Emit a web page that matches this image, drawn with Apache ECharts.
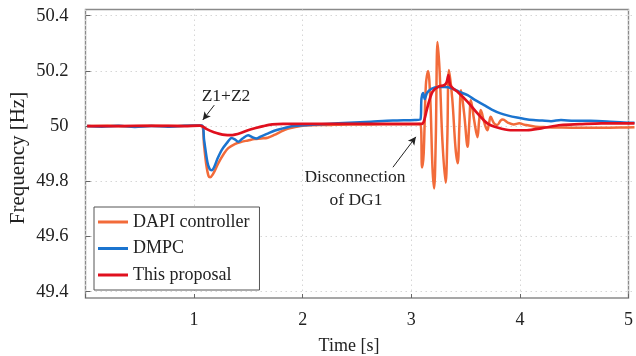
<!DOCTYPE html>
<html>
<head>
<meta charset="utf-8">
<script src="https://cdn.jsdelivr.net/npm/echarts@6/dist/echarts.min.js"></script>
<style>html,body{margin:0;padding:0;background:#fff;}#c{width:636px;height:356px;}</style>
</head>
<body>
<div id="c"></div>
<script>
// ---- data (time [s], frequency [Hz]) ----
var seriesNames = ['DAPI controller', 'DMPC', 'This proposal'];
var xTicks = [1, 2, 3, 4, 5];
var yTicks = [49.4, 49.6, 49.8, 50, 50.2, 50.4];

var dapi = [[0.015,50.0],[0.2,50.001],[0.4,49.999],[0.6,50.001],[0.8,50.0],[1.0,50.002],[1.06,50.0],[1.08,49.93],[1.1,49.86],[1.12,49.82],[1.135,49.815],[1.16,49.825],[1.21,49.866],[1.26,49.9],[1.30,49.92],[1.36,49.935],[1.42,49.943],[1.48,49.948],[1.54,49.953],[1.6,49.955],[1.66,49.958],[1.72,49.968],[1.78,49.98],[1.84,49.99],[1.90,49.996],[2.0,50.002],[2.2,50.004],[2.4,50.006],[2.6,50.006],[2.8,50.007],[3.0,50.007],[3.05,50.008],[3.065,49.85],[3.08,49.9],[3.10,50.15],[3.12,50.20],[3.14,50.1],[3.16,49.85],[3.175,49.774],[3.19,49.95],[3.206,50.305],[3.225,50.2],[3.25,49.95],[3.28,49.795],[3.295,49.95],[3.31,50.203],[3.34,50.1],[3.37,49.92],[3.39,49.865],[3.405,50.0],[3.42,50.13],[3.45,50.04],[3.48,49.925],[3.495,50.01],[3.51,50.094],[3.54,50.02],[3.57,49.96],[3.585,50.02],[3.6,50.058],[3.63,50.015],[3.66,49.985],[3.675,50.01],[3.69,50.034],[3.72,50.01],[3.75,50.004],[3.78,50.02],[3.8,50.024],[3.85,50.012],[3.9,50.006],[3.95,50.01],[4.0,50.005],[4.1,49.998],[4.2,49.996],[4.3,49.995],[4.5,49.994],[4.7,49.994],[4.9,49.995],[5.0,49.996]];

var dmpc = [[0.015,50.0],[0.15,49.998],[0.3,50.001],[0.45,49.997],[0.6,50.0],[0.75,49.998],[0.9,50.001],[1.06,50.002],[1.08,49.95],[1.11,49.87],[1.13,49.845],[1.15,49.84],[1.17,49.85],[1.2,49.88],[1.24,49.913],[1.29,49.94],[1.33,49.957],[1.36,49.952],[1.39,49.943],[1.43,49.955],[1.48,49.967],[1.52,49.96],[1.555,49.955],[1.6,49.963],[1.66,49.973],[1.72,49.983],[1.78,49.99],[1.85,49.997],[1.9,50.0],[2.0,50.003],[2.2,50.008],[2.4,50.012],[2.6,50.016],[2.8,50.02],[3.0,50.022],[3.05,50.024],[3.06,50.10],[3.075,50.12],[3.09,50.098],[3.11,50.12],[3.15,50.135],[3.21,50.142],[3.27,50.142],[3.33,50.138],[3.4,50.125],[3.48,50.112],[3.55,50.094],[3.63,50.076],[3.7,50.06],[3.78,50.046],[3.85,50.038],[3.93,50.031],[4.0,50.026],[4.08,50.022],[4.16,50.02],[4.24,50.018],[4.33,50.022],[4.45,50.019],[4.6,50.019],[4.75,50.017],[4.9,50.013],[5.0,50.012]];

var proposal = [[0.015,50.0],[0.3,50.0],[0.6,50.001],[0.9,50.0],[1.04,50.002],[1.06,50.0],[1.1,49.99],[1.17,49.978],[1.22,49.972],[1.27,49.968],[1.32,49.967],[1.36,49.969],[1.42,49.976],[1.48,49.985],[1.55,49.993],[1.62,50.0],[1.7,50.006],[1.8,50.008],[2.0,50.008],[2.3,50.008],[2.6,50.008],[2.9,50.008],[3.06,50.008],[3.08,50.015],[3.1,50.045],[3.115,50.07],[3.16,50.124],[3.21,50.142],[3.27,50.149],[3.29,50.16],[3.305,50.185],[3.32,50.15],[3.35,50.135],[3.39,50.124],[3.48,50.088],[3.57,50.046],[3.66,50.01],[3.75,49.995],[3.87,49.985],[4.02,49.985],[4.15,49.992],[4.33,50.004],[4.5,50.007],[4.7,50.01],[4.85,50.01],[5.0,50.01]];

// annotation arrows: [from, to] in data coordinates
var arrowZ = [[1.173, 50.076], [1.068, 50.022]];
var arrowDG = [[2.80, 49.851], [3.009, 49.961]];

var colors = ['#F26B3A', '#1B74CF', '#E0101E'];
var FONT = '"Liberation Serif", "DejaVu Serif", serif';

var chart = echarts.init(document.getElementById('c'), null, {renderer: 'canvas'});
var option = {
  animation: false,
  backgroundColor: '#fff',
  textStyle: {fontFamily: FONT, color: '#222'},
  grid: [
    {left: 85.5, right: 1.5, top: 9.5, bottom: 58, show: true, borderColor: '#8a8a8a', borderWidth: 1.4, backgroundColor: 'transparent'},
    {left: 85.5, right: 1.5, top: 15.7, bottom: 64.3}
  ],
  xAxis: [
    {gridIndex: 0, type: 'value', min: 0, max: 5, interval: 1,
     axisLine: {show: false},
     axisTick: {show: true, inside: true, length: 4, lineStyle: {color: '#666'}},
     axisLabel: {fontFamily: FONT, fontSize: 18, color: '#222', margin: 13,
       formatter: function (v) { return xTicks.indexOf(v) >= 0 ? String(v) : ''; }},
     splitLine: {show: true, lineStyle: {color: '#d6d6d6', type: [1.5, 3.5], width: 1}}},
    {gridIndex: 1, type: 'value', min: 0, max: 5, show: false}
  ],
  yAxis: [
    {gridIndex: 0, type: 'value', min: 0, max: 1, show: false},
    {gridIndex: 1, type: 'value', min: 49.4, max: 50.4, interval: 0.2,
     axisLine: {show: false},
     axisTick: {show: true, inside: true, length: 5, lineStyle: {color: '#666'}},
     axisLabel: {fontFamily: FONT, fontSize: 18.5, color: '#222', margin: 17,
       formatter: function (v) {
         for (var i = 0; i < yTicks.length; i++) {
           if (Math.abs(v - yTicks[i]) < 1e-6) return Math.abs(v - 50) < 1e-6 ? '50' : yTicks[i].toFixed(1);
         }
         return '';
       }},
     splitLine: {show: true, lineStyle: {color: '#d6d6d6', type: [1.5, 3.5], width: 1}}}
  ],
  legend: {
    orient: 'vertical', left: 94, top: 207,
    data: seriesNames,
    icon: 'rect', itemWidth: 30, itemHeight: 3, itemGap: 6.5,
    padding: [5, 10, 5, 4],
    borderColor: '#555', borderWidth: 1, backgroundColor: '#fff',
    textStyle: {fontFamily: FONT, fontSize: 18, color: '#222', lineHeight: 20}
  },
  graphic: [
    {type: 'text', x: 18, y: 158, rotation: Math.PI / 2,
     style: {text: 'Frequency [Hz]', font: '21px ' + FONT, fill: '#222', align: 'center', verticalAlign: 'middle'}},
    {type: 'text', x: 349, y: 346,
     style: {text: 'Time [s]', font: '18px ' + FONT, fill: '#222', align: 'center', verticalAlign: 'middle'}},
    {type: 'text', x: 226, y: 96,
     style: {text: 'Z1+Z2', font: '17.5px ' + FONT, fill: '#222', align: 'center', verticalAlign: 'middle'}},
    {type: 'text', x: 355, y: 177,
     style: {text: 'Disconnection', font: '17.5px ' + FONT, fill: '#222', align: 'center', verticalAlign: 'middle'}},
    {type: 'text', x: 356, y: 200,
     style: {text: 'of DG1', font: '17.5px ' + FONT, fill: '#222', align: 'center', verticalAlign: 'middle'}}
  ],
  series: [
    {name: seriesNames[0], type: 'line', xAxisIndex: 1, yAxisIndex: 1, data: dapi, showSymbol: false, smooth: 0.35,
     lineStyle: {color: colors[0], width: 2.5}, itemStyle: {color: colors[0]}, z: 2},
    {name: seriesNames[1], type: 'line', xAxisIndex: 1, yAxisIndex: 1, data: dmpc, showSymbol: false, smooth: 0.3,
     lineStyle: {color: colors[1], width: 2.5}, itemStyle: {color: colors[1]}, z: 3},
    {name: seriesNames[2], type: 'line', xAxisIndex: 1, yAxisIndex: 1, data: proposal, showSymbol: false, smooth: 0.3,
     lineStyle: {color: colors[2], width: 2.7}, itemStyle: {color: colors[2]}, z: 4,
     markLine: {silent: true, symbol: ['none', 'arrow'], symbolSize: [6, 8], animation: false,
       label: {show: false}, lineStyle: {color: '#222', width: 1, type: 'solid'},
       emphasis: {disabled: true},
       data: [
         [{coord: arrowZ[0]}, {coord: arrowZ[1]}],
         [{coord: arrowDG[0]}, {coord: arrowDG[1]}]
       ]}}
  ]
};
chart.setOption(option);
</script>
</body>
</html>
